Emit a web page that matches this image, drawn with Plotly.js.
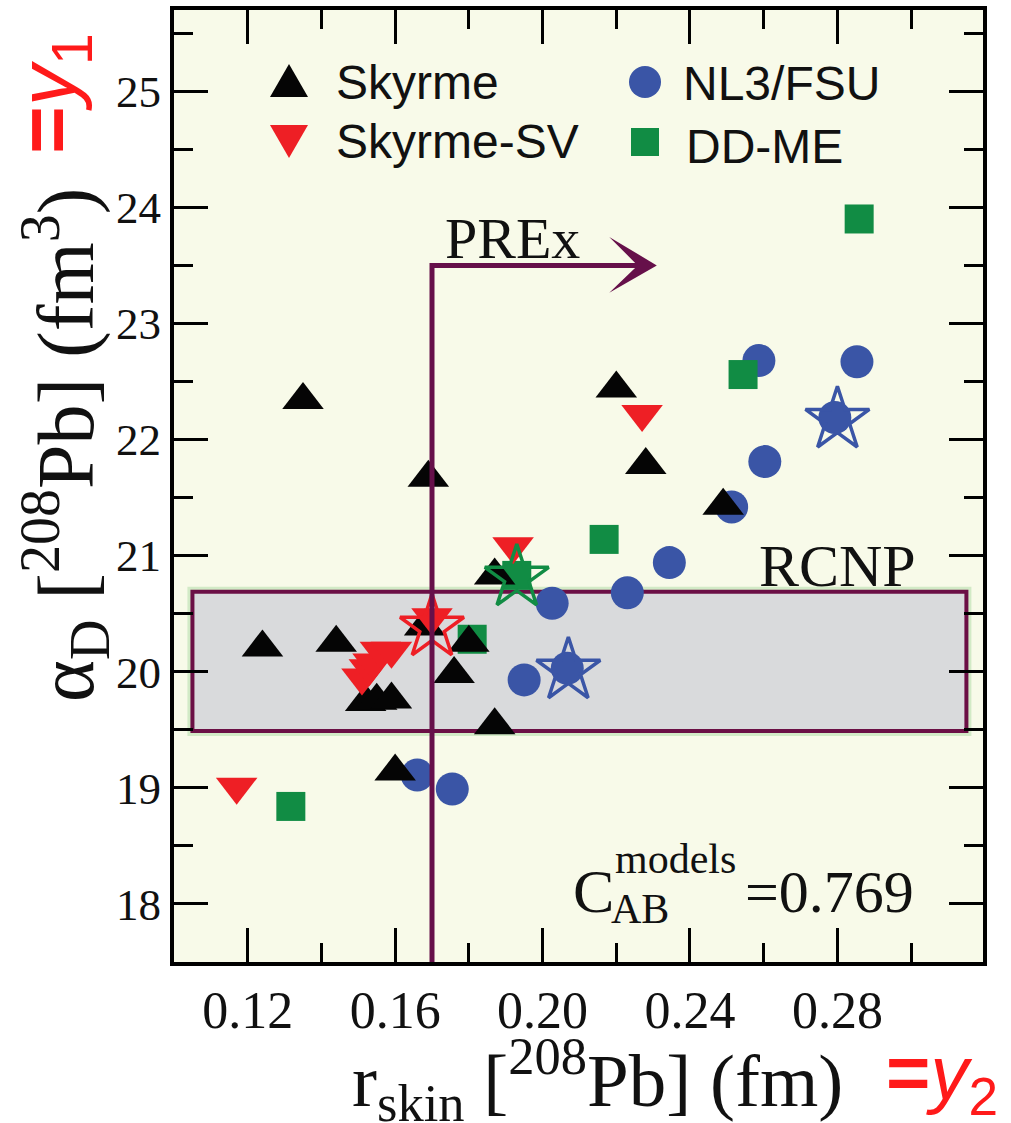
<!DOCTYPE html>
<html>
<head>
<meta charset="utf-8">
<script src="https://cdn.plot.ly/plotly-3.0.1.min.js"></script>
<style>
  html, body { margin: 0; padding: 0; background: #ffffff; }
  #chart { width: 1011px; height: 1123px; }
</style>
</head>
<body>
<div id="chart"></div>
<script>
// Neutron-skin thickness r_skin (fm) and dipole polarizability alpha_D (fm^3) of 208Pb
// predicted by several families of nuclear energy-density functionals.
const nl3Skin   = [0.166, 0.1755, 0.195, 0.2026, 0.2067, 0.223, 0.2344, 0.2513, 0.2603, 0.2587, 0.2853, 0.2793];
const nl3Alpha  = [19.11, 18.99, 19.93, 20.59, 20.03, 20.68, 20.94, 21.42, 21.81, 22.68, 22.67, 22.19];

const ddmeSkin  = [0.2859, 0.2544, 0.2167, 0.193, 0.1809, 0.1317];
const ddmeAlpha = [23.90, 22.56, 21.14, 20.83, 20.28, 18.84];

const skyrmeSkin  = [0.135, 0.169, 0.220, 0.228, 0.187, 0.249, 0.168, 0.180, 0.176, 0.187, 0.160, 0.124, 0.144, 0.152, 0.155, 0.159];
const skyrmeAlpha = [22.34, 21.67, 22.44, 21.78, 20.83, 21.43, 20.39, 20.25, 19.98, 19.54, 19.14, 20.21, 20.25, 19.74, 19.75, 19.76];

const svSkin  = [0.227, 0.192, 0.117, 0.151, 0.153, 0.154, 0.156, 0.159, 0.170];
const svAlpha = [22.22, 21.08, 19.01, 19.95, 20.03, 20.08, 20.18, 20.18, 20.47];

// highlighted parametrisations (drawn as open stars on top of their family marker)
const starSkin   = [0.280, 0.207, 0.193, 0.170];
const starAlpha  = [22.17, 20.01, 20.81, 20.38];
const starFamily = ['NL3/FSU', 'NL3/FSU', 'DD-ME', 'Skyrme-SV'];

// experimental constraints
const rcnpAlpha = [19.49, 20.69];   // RCNP alpha_D band
const rcnpSkin  = [0.105, 0.315];   // horizontal extent of the band
const prexSkin  = 0.17;             // PREx lower bound on r_skin
const prexAlpha = 23.5;             // height of the PREx arrow
const prexArrowEnd = 0.231;
const corrValue = '0.769';

const familyColor = {
  'Skyrme': '#050505',
  'Skyrme-SV': '#ee1f25',
  'NL3/FSU': '#3a55a6',
  'DD-ME': '#118c44'
};
const purple = '#66104a';

const serif = 'Liberation Serif, Times New Roman, serif';
const sans = 'Liberation Sans, Arial, Helvetica, sans-serif';

// plot-area geometry in pixels, used to place the text decorations
const M = { l: 174, r: 28, t: 10, b: 161 };
const W = 1011, H = 1123;
const PW = W - M.l - M.r, PH = H - M.t - M.b;
const px = p => (p - M.l) / PW;
const py = p => (H - M.b - p) / PH;

const traces = [
  { name: 'NL3/FSU', x: nl3Skin, y: nl3Alpha, type: 'scatter', mode: 'markers',
    marker: { symbol: 'circle', size: 33, color: familyColor['NL3/FSU'] } },
  { name: 'DD-ME', x: ddmeSkin, y: ddmeAlpha, type: 'scatter', mode: 'markers',
    marker: { symbol: 'square', size: 29, color: familyColor['DD-ME'] } },
  { name: 'Skyrme', x: skyrmeSkin, y: skyrmeAlpha, type: 'scatter', mode: 'markers',
    marker: { symbol: 'triangle-up', size: 36, color: familyColor['Skyrme'] } },
  { name: 'Skyrme-SV', x: svSkin, y: svAlpha, type: 'scatter', mode: 'markers',
    marker: { symbol: 'triangle-down', size: 36, color: familyColor['Skyrme-SV'] } },
  { name: 'highlighted', x: starSkin, y: starAlpha, type: 'scatter', mode: 'markers',
    marker: { symbol: 'star-open', size: 48, color: starFamily.map(f => familyColor[f]),
              line: { width: 3.5, color: starFamily.map(f => familyColor[f]) } } }
];

// legend keys drawn as pixel-sized shapes anchored in the plot area
function key(type, cxPix, cyPix, extra) {
  return Object.assign({
    type: type, xref: 'paper', yref: 'paper',
    xsizemode: 'pixel', ysizemode: 'pixel',
    xanchor: px(cxPix), yanchor: py(cyPix),
    line: { width: 0 }, layer: 'above'
  }, extra);
}

const shapes = [
  // RCNP band: soft halo, then the filled box with its border
  { type: 'rect', xref: 'x', yref: 'y', x0: rcnpSkin[0], x1: rcnpSkin[1], y0: rcnpAlpha[0], y1: rcnpAlpha[1],
    line: { color: '#d2eac6', width: 10 }, fillcolor: 'rgba(0,0,0,0)', layer: 'below' },
  { type: 'rect', xref: 'x', yref: 'y', x0: rcnpSkin[0], x1: rcnpSkin[1], y0: rcnpAlpha[0], y1: rcnpAlpha[1],
    line: { color: '#6b0f45', width: 4 }, fillcolor: '#d9dadc', layer: 'below' },
  // PREx bound: vertical line turning into an arrow
  { type: 'path', xref: 'x', yref: 'y', layer: 'above',
    path: `M ${prexSkin},17.5 L ${prexSkin},${prexAlpha} L ${prexArrowEnd - 0.005},${prexAlpha}`,
    line: { color: purple, width: 5 } },
  { type: 'path', xref: 'x', yref: 'y', layer: 'above',
    path: `M ${prexArrowEnd},${prexAlpha} L ${prexArrowEnd - 0.0129},${prexAlpha + 0.245} ` +
          `L ${prexArrowEnd - 0.0052},${prexAlpha} L ${prexArrowEnd - 0.0129},${prexAlpha - 0.235} Z`,
    fillcolor: purple, line: { width: 0 } },
  // legend keys
  key('path', 289, 86, { path: 'M-19,-11 L19,-11 L0,22 Z', fillcolor: familyColor['Skyrme'] }),
  key('path', 289, 136, { path: 'M-19,11 L19,11 L0,-22 Z', fillcolor: familyColor['Skyrme-SV'] }),
  key('circle', 645, 82, { x0: -16, x1: 16, y0: -16, y1: 16, fillcolor: familyColor['NL3/FSU'] }),
  key('rect', 645, 142, { x0: -14, x1: 14, y0: -14, y1: 14, fillcolor: familyColor['DD-ME'] })
];

function label(text, xPix, yPix, size, family, extra) {
  return Object.assign({
    text: text, xref: 'paper', yref: 'paper', x: px(xPix), y: py(yPix),
    xanchor: 'left', yanchor: 'middle', showarrow: false,
    font: { family: family, size: size, color: '#111111' }
  }, extra || {});
}

const red = '#ff1a1a';
const annotations = [
  label('Skyrme', 334, 83, 48, sans),
  label('Skyrme-SV', 334, 142, 48, sans),
  label('NL3/FSU', 681, 84, 48, sans),
  label('DD-ME', 684, 146, 48, sans),
  label('PREx', 443, 238, 58, serif),
  label('RCNP', 757, 566, 60, serif),
  label('C', 571, 891, 62, serif),
  label('AB', 609, 909, 42, serif),
  label('models', 613, 859, 42, serif),
  label('=' + corrValue, 743, 892, 60, serif),
  // axis titles
  label('r<sub>skin</sub> [<sup>208</sup>Pb] (fm)', 350, 1079, 75, serif),
  label('α<sub>D</sub> [<sup>208</sup>Pb] (fm<sup>3</sup>)', 65, 445, 80, serif,
        { xanchor: 'center', textangle: -90 }),
  // variable names attached to the axes
  label('<b>=</b><i>y</i><sub>2</sub>', 884, 1078, 76, sans, { font: { family: sans, size: 76, color: red } }),
  label('<b>=</b><i>y</i><sub>1</sub>', 52, 94, 82, sans,
        { xanchor: 'center', textangle: -90, font: { family: sans, size: 82, color: red } })
];

const axisCommon = {
  ticks: 'inside', tickwidth: 3, ticklen: 34, tickcolor: '#000',
  showline: true, linewidth: 4, linecolor: '#000', mirror: 'allticks',
  showgrid: false, zeroline: false
};

const layout = {
  width: W, height: H,
  margin: M,
  paper_bgcolor: '#ffffff',
  plot_bgcolor: '#f8fae9',
  showlegend: false,
  xaxis: Object.assign({}, axisCommon, {
    range: [0.1, 0.3195], tick0: 0.12, dtick: 0.04, tickformat: '.2f',
    tickfont: { family: serif, size: 52, color: '#111' },
    minor: { dtick: 0.02, tick0: 0.1, ticks: 'inside', ticklen: 19, tickwidth: 3, tickcolor: '#000', showgrid: false }
  }),
  yaxis: Object.assign({}, axisCommon, {
    range: [17.5, 25.7], tick0: 18, dtick: 1,
    tickfont: { family: serif, size: 45, color: '#111' },
    minor: { dtick: 0.5, tick0: 17.5, ticks: 'inside', ticklen: 19, tickwidth: 3, tickcolor: '#000', showgrid: false }
  }),
  shapes: shapes,
  annotations: annotations
};

Plotly.newPlot('chart', traces, layout, { displayModeBar: false, staticPlot: true });
</script>
</body>
</html>
